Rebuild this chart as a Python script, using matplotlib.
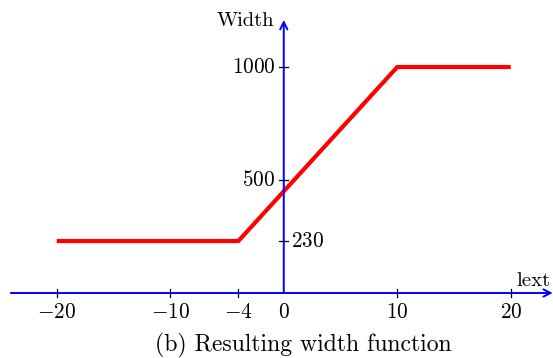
import matplotlib
matplotlib.use("Agg")
import matplotlib.pyplot as plt

plt.rcParams['mathtext.fontset'] = 'cm'

# width as a function of lext
lext = [-20, -4, 10, 20]
width = [230, 230, 1000, 1000]

xticks = [-20, -10, -4, 0, 10, 20]
yticks_left = [500, 1000]
yticks_right = [230]

fig = plt.figure(figsize=(5.53, 3.58), dpi=100)
ax = fig.add_axes([0, 0, 1, 1])
ax.set_xlim(-25.0, 23.72)
ax.set_ylim(-287.6, 1296.5)
ax.axis('off')

fs = 15.3
blue = (0, 0, 1)

# axes with arrows
ax.annotate('', xy=(23.7, 0), xytext=(-24.05, 0),
            arrowprops=dict(arrowstyle='->', color=blue, lw=1.4, mutation_scale=13,
                            shrinkA=0, shrinkB=0))
ax.annotate('', xy=(0, 1208), xytext=(0, 0),
            arrowprops=dict(arrowstyle='->', color=blue, lw=1.4, mutation_scale=13,
                            shrinkA=0, shrinkB=0))

# ticks
dy = 17
for t in xticks:
    if t != 0:
        ax.plot([t, t], [-dy, dy], color='black', lw=0.9)
    ax.text(t, -38, r'$%d$' % t, ha='center', va='top', fontsize=fs)
dx = 0.4
for t in yticks_left + yticks_right:
    ax.plot([-dx, dx], [t, t], color='black', lw=0.9)
for t in yticks_left:
    ax.text(-0.75, t, r'$%d$' % t, ha='right', va='center', fontsize=fs)
for t in yticks_right:
    ax.text(0.6, t, r'$%d$' % t, ha='left', va='center', fontsize=fs)

# curve
ax.plot(lext, width, color='red', lw=3.0, solid_capstyle='butt')

# axis labels
ax.text(-0.8, 1180, 'Width', ha='right', va='baseline', fontsize=14.8, family='cmr10')
ax.text(23.5, 30, 'lext', ha='right', va='baseline', fontsize=15, family='cmr10')

# caption
fig.text(0.549, 0.017, '(b) Resulting width function', ha='center', va='baseline',
         fontsize=17.1, family='cmr10')

fig.savefig('out.png', dpi=100)
